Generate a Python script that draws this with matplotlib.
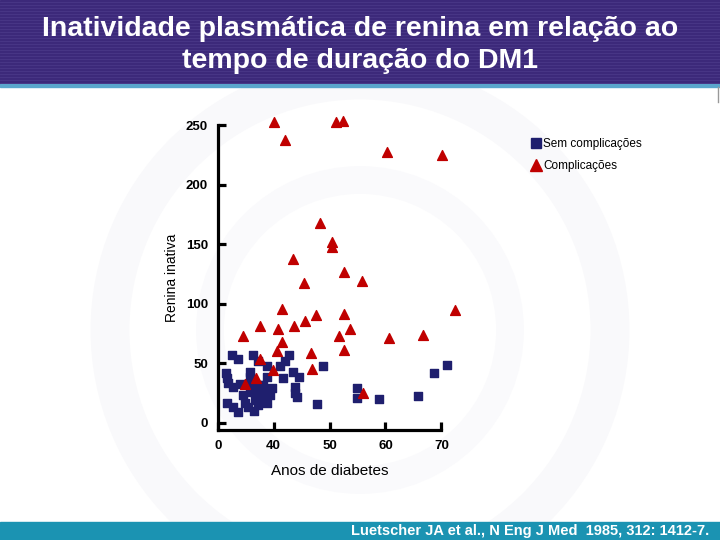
import numpy as np
import matplotlib.pyplot as plt
from matplotlib.patches import Rectangle, Circle
from matplotlib.lines import Line2D

# Sem complicações (blue squares)
sem_x = [32.6, 33.6, 36.3, 37.2, 42.8, 42.0, 41.1, 38.8, 31.5, 31.7,
         31.8, 35.8, 35.8, 38.8, 41.7, 43.5, 44.6, 48.8, 32.7, 34.0,
         35.4, 36.3, 37.2, 37.9, 35.8, 36.9, 38.1, 38.5, 39.4, 38.8,
         36.7, 37.2, 37.9, 43.8, 43.8, 44.2, 31.7, 32.7, 33.6, 34.9,
         35.4, 36.5, 47.8, 54.9, 54.9, 58.9, 65.8, 68.7, 71.0, 34.5, 39.7]
sem_y = [57.0, 53.7, 57.0, 52.0, 57.0, 52.0, 47.8, 47.8, 42.0, 37.8,
         33.6, 42.8, 38.6, 38.6, 37.8, 42.8, 38.6, 47.8, 30.2, 32.7,
         32.7, 29.4, 31.9, 27.7, 26.0, 23.5, 31.9, 27.7, 23.5, 16.8,
         19.3, 15.1, 21.0, 30.2, 25.2, 21.8, 16.8, 13.4, 9.2, 16.8,
         13.4, 10.1, 15.9, 29.4, 21.0, 20.1, 22.7, 42.0, 48.7, 23.5, 29.4]

# Complicações (red triangles)
com_x = [40.1, 42.0, 51.2, 52.4, 60.3, 70.1, 48.3, 50.4, 50.4, 43.5,
         52.6, 45.4, 55.8, 41.5, 47.6, 52.6, 72.5, 45.6, 37.6, 40.8,
         43.6, 53.7, 34.5, 51.7, 60.6, 66.7, 41.5, 40.6, 46.7, 52.6,
         37.6, 39.9, 46.9, 34.9, 36.9, 56.0]
com_y = [252.5, 237.4, 252.5, 253.4, 227.3, 224.8, 167.8, 151.8, 147.7, 137.6,
         126.7, 117.4, 119.1, 95.6, 90.6, 91.4, 94.8, 85.6, 81.4, 78.9,
         81.4, 78.9, 73.0, 73.0, 71.3, 73.8, 68.0, 60.4, 58.7, 61.2,
         53.7, 44.5, 45.3, 32.7, 37.8, 25.2]

xticks = [30, 40, 50, 60, 70]
xtick_labels = ["0", "40", "50", "60", "70"]
yticks = [0, 50, 100, 150, 200, 250]

blue = "#1f1f6e"
red = "#c00000"

fig = plt.figure(figsize=(7.2, 5.4), dpi=100)
plt.rcParams['font.family'] = ['Liberation Sans', 'DejaVu Sans']

# faint watermark circles
bg = fig.add_axes([0, 0, 1, 1])
bg.set_xlim(0, 720)
bg.set_ylim(540, 0)
bg.axis('off')
bg.add_patch(Circle((360, 330), 250, fill=False, lw=28, ec="#f9f9fb"))
bg.add_patch(Circle((360, 330), 150, fill=False, lw=20, ec="#fafafc"))

# title banner
bg.add_patch(Rectangle((0, 0), 720, 85, color="#3c297a"))
for yy in np.arange(2, 85, 3):
    bg.plot([0, 720], [yy, yy], color="#4a3888", lw=0.6)
bg.add_patch(Rectangle((0, 84), 720, 3, color="#5aa6cc"))
bg.plot([718, 718], [87, 102], color="#999999", lw=1)
bg.text(360, 29, "Inatividade plasmática de renina em relação ao",
        color="white", fontsize=20.5, fontweight="bold", ha="center", va="center")
bg.text(360, 61, "tempo de duração do DM1",
        color="white", fontsize=20.5, fontweight="bold", ha="center", va="center")

# footer
bg.add_patch(Rectangle((0, 522), 720, 18, color="#1b93b2"))
bg.text(709, 531, "Luetscher JA et al., N Eng J Med  1985, 312: 1412-7.",
        color="white", fontsize=10.5, fontweight="bold", ha="right", va="center")

ax = fig.add_axes([0.3024, 0.2037, 0.3417, 0.5824])
ax.patch.set_alpha(0)
ax.scatter(sem_x, sem_y, marker="s", s=30, color=blue, zorder=3, clip_on=False)
ax.scatter(com_x, com_y, marker="^", s=50, color=red, zorder=4, clip_on=False)

ax.set_xlim(30, 74)
ax.set_ylim(-6, 258)
for s in ["top", "right"]:
    ax.spines[s].set_visible(False)
for s in ["left", "bottom"]:
    ax.spines[s].set_linewidth(2.3)
ax.spines["bottom"].set_bounds(30, 70)
ax.spines["left"].set_bounds(-6, 250)
ax.set_xticks(xticks)
ax.set_xticklabels(xtick_labels)
ax.set_yticks(yticks)
ax.tick_params(direction="in", length=6, width=2.3, labelsize=9.5, pad=7)
for lab in ax.get_xticklabels() + ax.get_yticklabels():
    lab.set_fontweight("bold")

fig.text(330 / 720, 1 - 471 / 540, "Anos de diabetes", fontsize=11,
         ha="center", va="center")
fig.text(172 / 720, 1 - 278 / 540, "Renina inativa", fontsize=10,
         ha="center", va="center", rotation=90)

handles = [Line2D([], [], marker="s", ls="", color=blue, ms=7),
           Line2D([], [], marker="^", ls="", color=red, ms=9)]
fig.legend(handles, ["Sem complicações", "Complicações"], loc="upper left",
           bbox_to_anchor=(523 / 720, 1 - 132 / 540), frameon=False,
           fontsize=8.5, handletextpad=0.0, handlelength=1.2, labelspacing=0.85,
           borderpad=0)

fig.savefig("out.png", dpi=100)
